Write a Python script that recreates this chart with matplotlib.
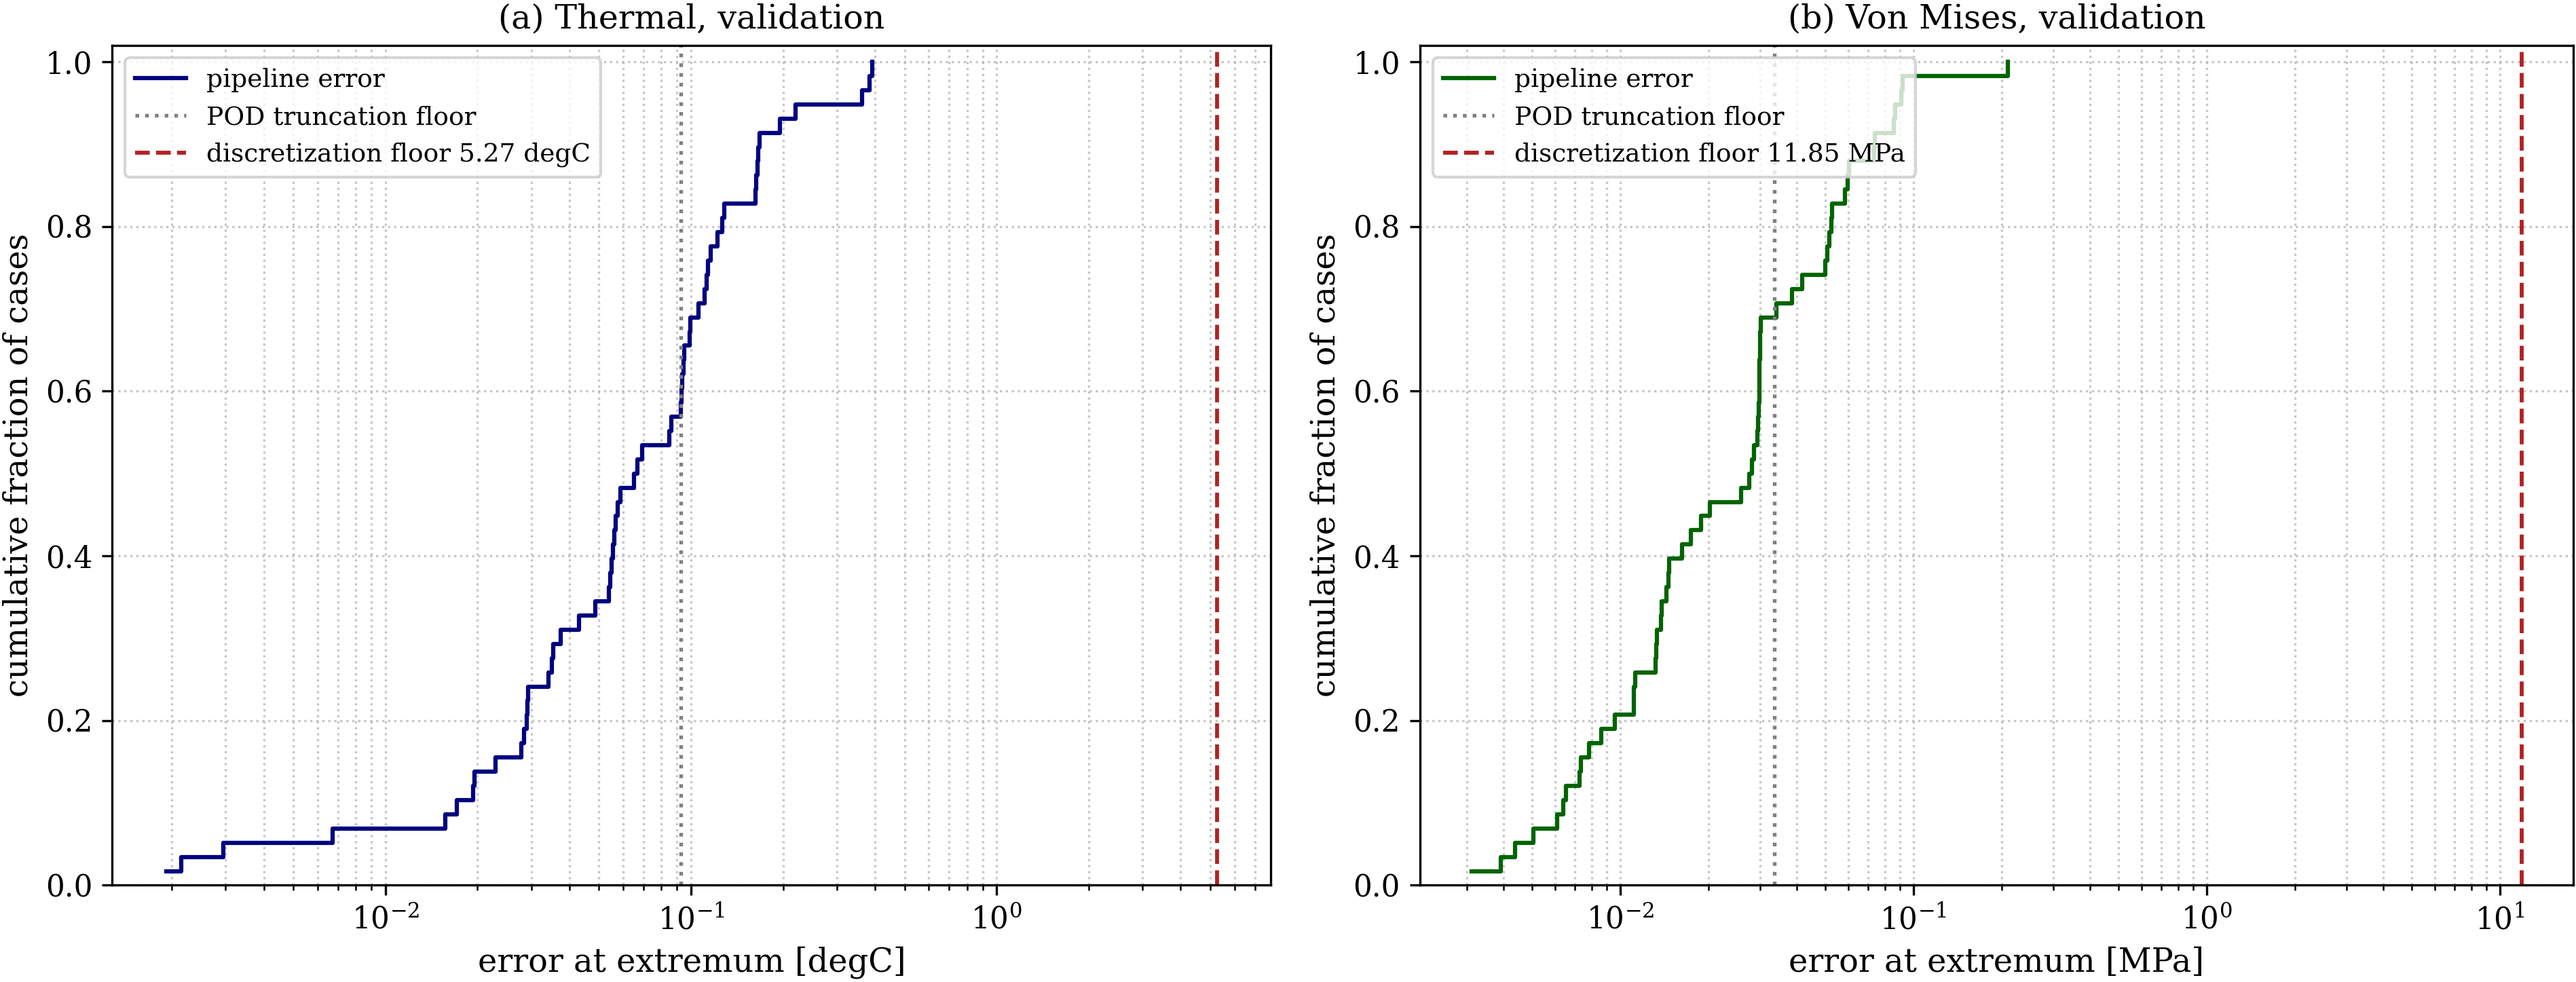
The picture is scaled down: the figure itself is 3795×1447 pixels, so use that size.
import numpy as np
import matplotlib
matplotlib.use("Agg")
import matplotlib.pyplot as plt

# sorted per-case error at the field extremum (validation set, 58 cases)
thermal_err = [0.001916, 0.002145, 0.002953, 0.006720, 0.01572, 0.01714, 0.01935, 0.01957,
               0.02291, 0.02782, 0.02845, 0.02901, 0.02920, 0.02935, 0.03421, 0.03510,
               0.03541, 0.03747, 0.04307, 0.04871, 0.05395, 0.05434, 0.05490, 0.05546,
               0.05603, 0.05679, 0.05758, 0.05886, 0.06520, 0.06688, 0.06923, 0.08492,
               0.08611, 0.09252, 0.09314, 0.09376, 0.09443, 0.09521, 0.09888, 0.09938,
               0.1060, 0.1107, 0.1124, 0.1139, 0.1162, 0.1220, 0.1262, 0.1284,
               0.1629, 0.1637, 0.1652, 0.1663, 0.1675, 0.1959, 0.2197, 0.3620,
               0.3843, 0.3924]
vm_err = [0.003117, 0.003920, 0.004392, 0.005071, 0.006101, 0.006391, 0.006530, 0.007285,
          0.007363, 0.007826, 0.008641, 0.009583, 0.01113, 0.01116, 0.01124, 0.01320,
          0.01329, 0.01336, 0.01379, 0.01389, 0.01443, 0.01460, 0.01470, 0.01629,
          0.01740, 0.01888, 0.02027, 0.02587, 0.02754, 0.02813, 0.02862, 0.02944,
          0.02960, 0.02971, 0.02982, 0.02987, 0.02992, 0.03003, 0.03008, 0.03020,
          0.03418, 0.03858, 0.04179, 0.05016, 0.05096, 0.05170, 0.05254, 0.05297,
          0.05855, 0.05963, 0.06036, 0.07353, 0.07404, 0.08582, 0.08674, 0.09085,
          0.09183, 0.2105]

pod_floor = [0.0925, 0.0335]
disc_floor = [5.27, 11.85]
units = ["degC", "MPa"]
titles = ["(a) Thermal, validation", "(b) Von Mises, validation"]
colors = ["navy", "darkgreen"]

plt.rcParams.update({'font.family': 'serif', 'font.size': 12,
                     'xtick.labelsize': 10.5, 'ytick.labelsize': 10.5})

fig = plt.figure(figsize=(12.65, 1447 / 300), dpi=300)
ax_pos = [[0.0436, 0.0985, 0.4498, 0.8554],
          [0.5512, 0.0985, 0.4477, 0.8554]]

for i, err in enumerate([thermal_err, vm_err]):
    ax = fig.add_axes(ax_pos[i])
    err = np.sort(np.array(err))
    frac = np.arange(1, len(err) + 1) / len(err)
    ax.step(err, frac, where='post', color=colors[i], lw=1.5, label='pipeline error')
    ax.axvline(pod_floor[i], color='gray', ls=':', lw=1.3, label='POD truncation floor')
    ax.axvline(disc_floor[i], color='firebrick', ls='--', lw=1.4,
               label='discretization floor {:.2f} {}'.format(disc_floor[i], units[i]))
    ax.set_xscale('log')
    ax.set_xlim(err.min() / 1.5, disc_floor[i] * 1.5)
    ax.set_ylim(0, 1.02)
    ax.grid(True, which='both', ls=':', alpha=0.7)
    ax.set_xlabel('error at extremum [{}]'.format(units[i]), fontsize=11.5)
    ax.set_ylabel('cumulative fraction of cases', fontsize=11.5)
    ax.set_title(titles[i], fontsize=11.8)
    ax.legend(loc='upper left', fontsize=9)

fig.savefig('out.png', dpi=300)
